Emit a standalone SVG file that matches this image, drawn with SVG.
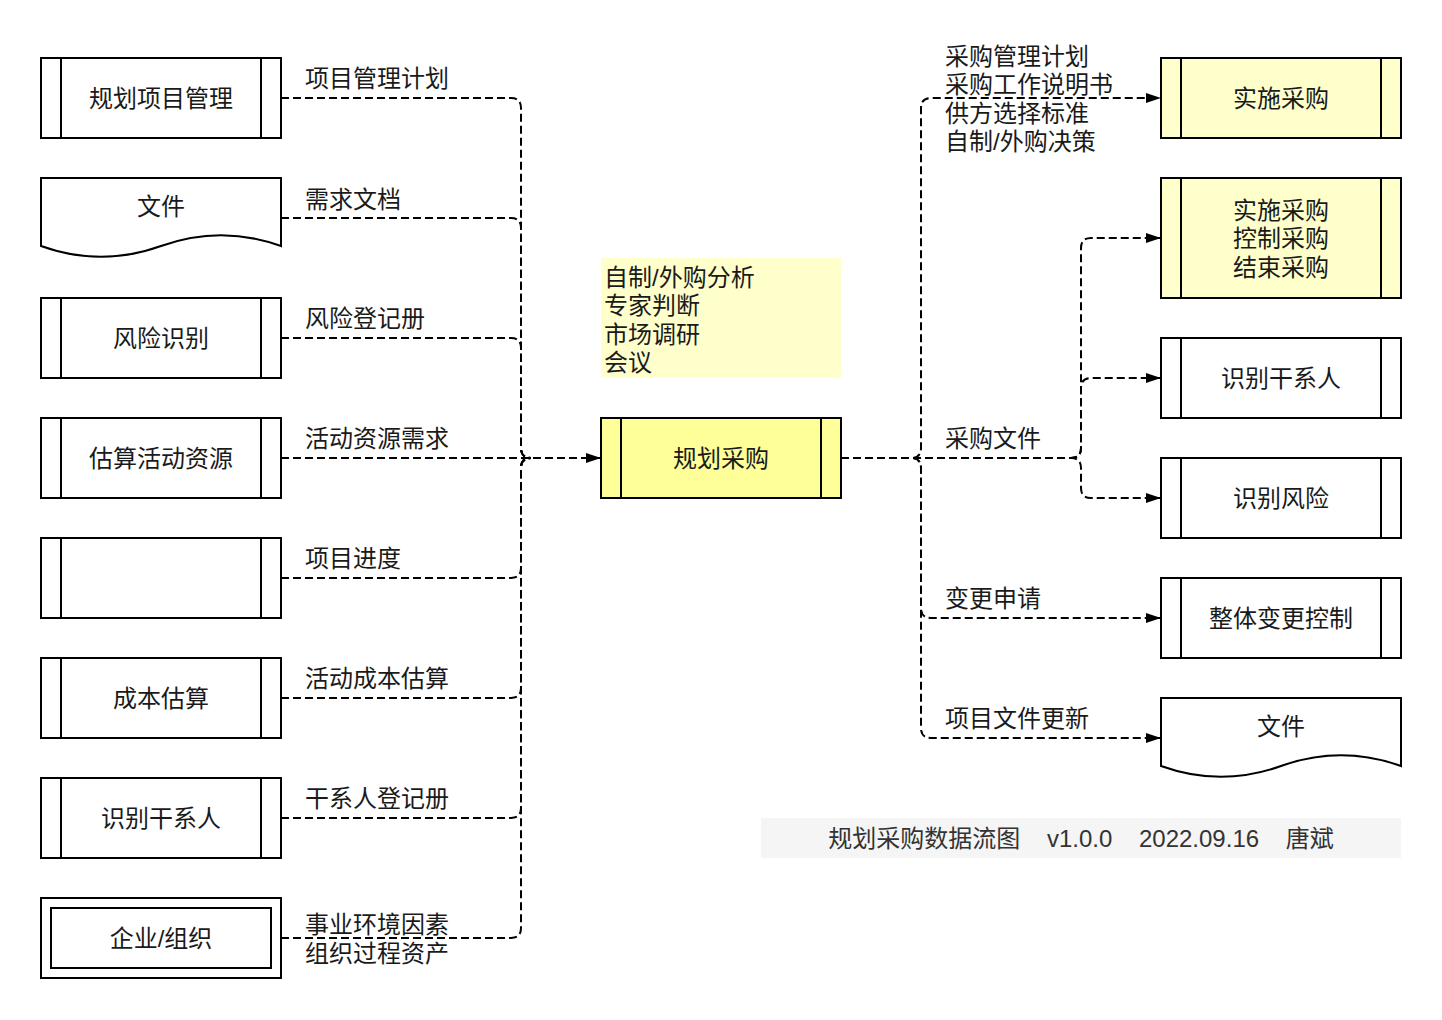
<svg xmlns="http://www.w3.org/2000/svg" width="1442" height="1020" viewBox="0 0 1442 1020">
<defs>
<marker id="arr" viewBox="0 0 15 10" refX="15" refY="5" markerWidth="15" markerHeight="10" markerUnits="userSpaceOnUse" orient="auto">
<path d="M0,0 L15,5 L0,10 Z" fill="#000"/>
</marker>
<style>
.box{fill:#fff;stroke:#000;stroke-width:2}
.ybox{fill:#ffffcc;stroke:#000;stroke-width:2}
.cbox{fill:#ffff99;stroke:#000;stroke-width:2}
.ln{stroke:#000;stroke-width:2;fill:none}
.t{font-family:"Liberation Sans","Noto Sans CJK SC",sans-serif;font-size:24px;fill:#1a1a1a}
.c{text-anchor:middle;dominant-baseline:central}
.l{dominant-baseline:central}
.e{fill:none;stroke:#000;stroke-width:2;stroke-dasharray:8 4}
.ea{fill:none;stroke:#000;stroke-width:2;stroke-dasharray:8 4;marker-end:url(#arr)}
</style>
</defs>
<rect width="1442" height="1020" fill="#fff"/>

<g id="connectors">
<path class="e" d="M281,98 L511,98 Q521,98 521,108 L521,448 Q521,458 531,458"/>
<path class="e" d="M281,218 L511,218 Q521,218 521,228 L521,448 Q521,458 531,458"/>
<path class="e" d="M281,338 L511,338 Q521,338 521,348 L521,448 Q521,458 531,458"/>
<path class="ea" d="M281,458 L601,458"/>
<path class="e" d="M281,578 L511,578 Q521,578 521,568 L521,468 Q521,458 531,458"/>
<path class="e" d="M281,698 L511,698 Q521,698 521,688 L521,468 Q521,458 531,458"/>
<path class="e" d="M281,818 L511,818 Q521,818 521,808 L521,468 Q521,458 531,458"/>
<path class="e" d="M281,938 L511,938 Q521,938 521,928 L521,468 Q521,458 531,458"/>

<path class="ea" d="M841,458 L911,458 Q921,458 921,448 L921,108 Q921,98 931,98 L1161,98"/>
<path class="ea" d="M841,458 L911,458 Q921,458 921,468 L921,608 Q921,618 931,618 L1161,618"/>
<path class="ea" d="M841,458 L911,458 Q921,458 921,468 L921,728 Q921,738 931,738 L1161,738"/>
<path class="ea" d="M841,458 L1071,458 Q1081,458 1081,448 L1081,248 Q1081,238 1091,238 L1161,238"/>
<path class="ea" d="M841,458 L1071,458 Q1081,458 1081,448 L1081,388 Q1081,378 1091,378 L1161,378"/>
<path class="ea" d="M841,458 L1071,458 Q1081,458 1081,468 L1081,488 Q1081,498 1091,498 L1161,498"/>
</g>

<g id="edge-labels">
<text class="t l" x="305" y="78">项目管理计划</text>
<text class="t l" x="305" y="199">需求文档</text>
<text class="t l" x="305" y="318">风险登记册</text>
<text class="t l" x="305" y="438">活动资源需求</text>
<text class="t l" x="305" y="558">项目进度</text>
<text class="t l" x="305" y="678">活动成本估算</text>
<text class="t l" x="305" y="798">干系人登记册</text>
<text class="t l" x="305" y="924">事业环境因素</text>
<text class="t l" x="305" y="953">组织过程资产</text>
<text class="t l" x="945" y="56">采购管理计划</text>
<text class="t l" x="945" y="84">采购工作说明书</text>
<text class="t l" x="945" y="113">供方选择标准</text>
<text class="t l" x="945" y="141">自制/外购决策</text>
<text class="t l" x="945" y="438">采购文件</text>
<text class="t l" x="945" y="598">变更申请</text>
<text class="t l" x="945" y="718">项目文件更新</text>
</g>

<g id="n-plan-pm">
<rect class="box" x="41" y="58" width="240" height="80"/>
<path class="ln" d="M61,58 V138 M261,58 V138"/>
<text class="t c" x="161" y="98">规划项目管理</text>
</g>
<g id="n-doc-left">
<path class="box" d="M41,178 L281,178 L281,246 Q221,224.4 161,246 Q101,267.6 41,246 Z"/>
<text class="t c" x="161" y="206">文件</text>
</g>
<g id="n-risk-id">
<rect class="box" x="41" y="298" width="240" height="80"/>
<path class="ln" d="M61,298 V378 M261,298 V378"/>
<text class="t c" x="161" y="338">风险识别</text>
</g>
<g id="n-est-res">
<rect class="box" x="41" y="418" width="240" height="80"/>
<path class="ln" d="M61,418 V498 M261,418 V498"/>
<text class="t c" x="161" y="458">估算活动资源</text>
</g>
<g id="n-empty">
<rect class="box" x="41" y="538" width="240" height="80"/>
<path class="ln" d="M61,538 V618 M261,538 V618"/>
</g>
<g id="n-cost-est">
<rect class="box" x="41" y="658" width="240" height="80"/>
<path class="ln" d="M61,658 V738 M261,658 V738"/>
<text class="t c" x="161" y="698">成本估算</text>
</g>
<g id="n-stake-left">
<rect class="box" x="41" y="778" width="240" height="80"/>
<path class="ln" d="M61,778 V858 M261,778 V858"/>
<text class="t c" x="161" y="818">识别干系人</text>
</g>
<g id="n-org">
<rect class="box" x="41" y="898" width="240" height="80"/>
<rect class="box" x="51" y="908" width="220" height="60"/>
<text class="t c" x="161" y="938">企业/组织</text>
</g>

<g id="n-tools">
<rect x="601" y="258" width="240" height="120" fill="#ffffcc"/>
<text class="t l" x="604" y="277">自制/外购分析</text>
<text class="t l" x="604" y="305">专家判断</text>
<text class="t l" x="604" y="334">市场调研</text>
<text class="t l" x="604" y="362">会议</text>
</g>
<g id="n-plan-proc">
<rect class="cbox" x="601" y="418" width="240" height="80"/>
<path class="ln" d="M621,418 V498 M821,418 V498"/>
<text class="t c" x="721" y="458">规划采购</text>
</g>

<g id="n-conduct">
<rect class="ybox" x="1161" y="58" width="240" height="80"/>
<path class="ln" d="M1181,58 V138 M1381,58 V138"/>
<text class="t c" x="1281" y="98">实施采购</text>
</g>
<g id="n-conduct-ctrl-close">
<rect class="ybox" x="1161" y="178" width="240" height="120"/>
<path class="ln" d="M1181,178 V298 M1381,178 V298"/>
<text class="t c" x="1281" y="210">实施采购</text>
<text class="t c" x="1281" y="238">控制采购</text>
<text class="t c" x="1281" y="267">结束采购</text>
</g>
<g id="n-stake-right">
<rect class="box" x="1161" y="338" width="240" height="80"/>
<path class="ln" d="M1181,338 V418 M1381,338 V418"/>
<text class="t c" x="1281" y="378">识别干系人</text>
</g>
<g id="n-risk-right">
<rect class="box" x="1161" y="458" width="240" height="80"/>
<path class="ln" d="M1181,458 V538 M1381,458 V538"/>
<text class="t c" x="1281" y="498">识别风险</text>
</g>
<g id="n-icc">
<rect class="box" x="1161" y="578" width="240" height="80"/>
<path class="ln" d="M1181,578 V658 M1381,578 V658"/>
<text class="t c" x="1281" y="618">整体变更控制</text>
</g>
<g id="n-doc-right">
<path class="box" d="M1161,698 L1401,698 L1401,766 Q1341,744.4 1281,766 Q1221,787.6 1161,766 Z"/>
<text class="t c" x="1281" y="726">文件</text>
</g>

<g id="footer">
<rect x="761" y="818" width="640" height="40" fill="#f5f5f5"/>
<text class="t c" x="1081" y="838" style="white-space:pre;fill:#333">规划采购数据流图    v1.0.0    2022.09.16    唐斌</text>
</g>
</svg>
